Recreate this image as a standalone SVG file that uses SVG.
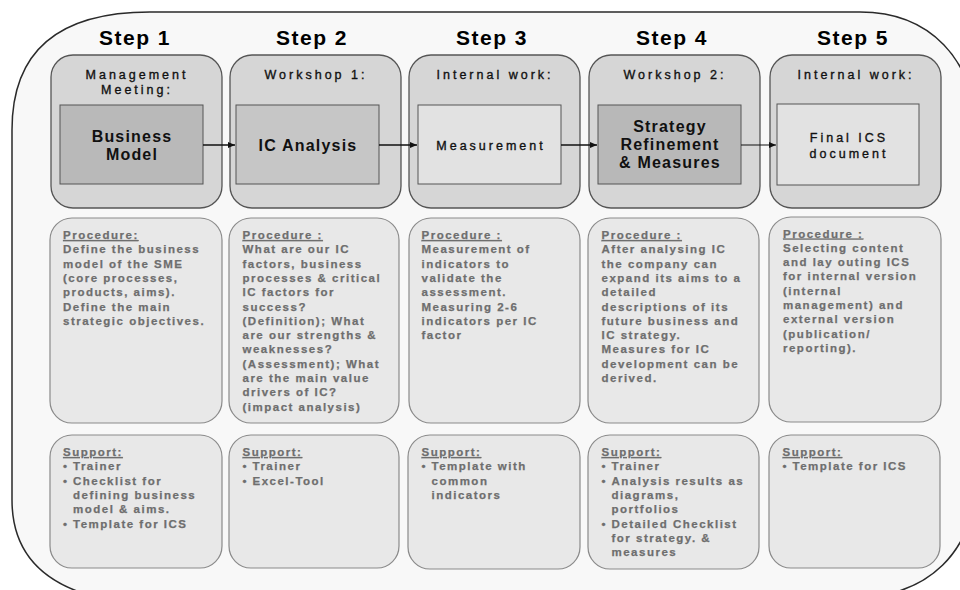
<svg xmlns="http://www.w3.org/2000/svg" width="960" height="590" viewBox="0 0 960 590">
<defs>
<style>
.outer{fill:#f8f8f8;stroke:#2a2a2a;stroke-width:1.5}
.step{fill:#d6d6d6;stroke:#555;stroke-width:1.3}
.inner{stroke:#555;stroke-width:1}
.pbox{fill:#e8e8e8;stroke:#8a8a8a;stroke-width:1.2}
text{font-family:"Liberation Sans",Arial,sans-serif}
.title{font-weight:bold;font-size:21px;letter-spacing:1.5px;fill:#000;text-anchor:middle}
.sub{font-size:12.5px;letter-spacing:3px;fill:#111;stroke:#111;stroke-width:0.35;text-anchor:middle}
.inb{font-weight:bold;font-size:16px;letter-spacing:1.2px;fill:#111;text-anchor:middle}
.body{font-weight:bold;font-size:11.5px;letter-spacing:1.5px;fill:#6e6e6e;stroke:#6e6e6e;stroke-width:0.25}
.ul{text-decoration:underline}
.conn{stroke:#111;stroke-width:1.5;fill:none}
</style>
<marker id="ah" markerUnits="userSpaceOnUse" markerWidth="8" markerHeight="8" refX="7" refY="3" orient="auto">
<path d="M0,0 L7,3 L0,6 Z" fill="#111"/>
</marker>
</defs>

<path class="outer" d="M150,12 L860,12 C930,12 975,60 975,130 L975,480 C975,550 930,598 850,598 L100,598 C45,585 12,555 12,500 L12,130 C12,50 60,12 150,12 Z"/>

<g id="step1">
<text class="title" x="135" y="44.5">Step 1</text>
<rect class="step" x="51" y="55" width="171" height="153" rx="22"/>
<text class="sub" x="137" y="79.3">Management</text>
<text class="sub" x="137" y="94">Meeting:</text>
<rect class="inner" x="60" y="105" width="143" height="79" fill="#b9b9b9"/>
<text class="inb" x="132" y="141.7">Business</text>
<text class="inb" x="132" y="160">Model</text>
</g>

<g id="step2">
<text class="title" x="312" y="44.5">Step 2</text>
<rect class="step" x="230" y="55" width="171" height="153" rx="22"/>
<text class="sub" x="316" y="79.3">Workshop 1:</text>
<rect class="inner" x="236" y="105" width="143" height="79" fill="#c6c6c6"/>
<text class="inb" x="308" y="150.7">IC Analysis</text>
</g>

<g id="step3">
<text class="title" x="492" y="44.5">Step 3</text>
<rect class="step" x="409" y="55" width="171" height="153" rx="22"/>
<text class="sub" x="495" y="79.3">Internal work:</text>
<rect class="inner" x="418" y="105" width="143" height="79" fill="#e2e2e2"/>
<text class="sub" x="491" y="150">Measurement</text>
</g>

<g id="step4">
<text class="title" x="672" y="44.5">Step 4</text>
<rect class="step" x="589" y="55" width="171" height="153" rx="22"/>
<text class="sub" x="675" y="79.3">Workshop 2:</text>
<rect class="inner" x="598" y="105" width="143" height="79" fill="#b8b8b8"/>
<text class="inb" x="670" y="132">Strategy</text>
<text class="inb" x="670" y="150">Refinement</text>
<text class="inb" x="670" y="168">&amp; Measures</text>
</g>

<g id="step5">
<text class="title" x="853" y="44.5">Step 5</text>
<rect class="step" x="770" y="55" width="171" height="153" rx="22"/>
<text class="sub" x="856" y="79.3">Internal work:</text>
<rect class="inner" x="777" y="104" width="142" height="81" fill="#e2e2e2"/>
<text class="sub" x="849" y="141.7">Final ICS</text>
<text class="sub" x="849" y="158.3">document</text>
</g>

<g id="connectors">
<line class="conn" x1="203" y1="145" x2="235" y2="145" marker-end="url(#ah)"/>
<line class="conn" x1="379" y1="145" x2="417" y2="145" marker-end="url(#ah)"/>
<line class="conn" x1="561" y1="145" x2="597" y2="145" marker-end="url(#ah)"/>
<line class="conn" style="stroke-width:1" x1="741" y1="145" x2="776" y2="145" marker-end="url(#ah)"/>
</g>

<g id="proc1">
<rect class="pbox" x="50" y="218" width="172" height="205" rx="22"/>
<text class="body" x="63" y="239"><tspan class="ul">Procedure:</tspan>
<tspan x="63" dy="14.3">Define the business</tspan>
<tspan x="63" dy="14.3">model of the SME</tspan>
<tspan x="63" dy="14.3">(core processes,</tspan>
<tspan x="63" dy="14.3">products, aims).</tspan>
<tspan x="63" dy="14.3">Define the main</tspan>
<tspan x="63" dy="14.3">strategic objectives.</tspan></text>
</g>

<g id="proc2">
<rect class="pbox" x="229" y="218" width="170" height="205" rx="22"/>
<text class="body" x="242.5" y="239"><tspan class="ul">Procedure :</tspan>
<tspan x="242.5" dy="14.3">What are our IC</tspan>
<tspan x="242.5" dy="14.3">factors, business</tspan>
<tspan x="242.5" dy="14.3">processes &amp; critical</tspan>
<tspan x="242.5" dy="14.3">IC factors for</tspan>
<tspan x="242.5" dy="14.3">success?</tspan>
<tspan x="242.5" dy="14.3">(Definition); What</tspan>
<tspan x="242.5" dy="14.3">are our strengths &amp;</tspan>
<tspan x="242.5" dy="14.3">weaknesses?</tspan>
<tspan x="242.5" dy="14.3">(Assessment); What</tspan>
<tspan x="242.5" dy="14.3">are the main value</tspan>
<tspan x="242.5" dy="14.3">drivers of IC?</tspan>
<tspan x="242.5" dy="14.3">(impact analysis)</tspan></text>
</g>

<g id="proc3">
<rect class="pbox" x="409" y="218" width="171" height="205" rx="22"/>
<text class="body" x="421.5" y="239"><tspan class="ul">Procedure :</tspan>
<tspan x="421.5" dy="14.3">Measurement of</tspan>
<tspan x="421.5" dy="14.3">indicators to</tspan>
<tspan x="421.5" dy="14.3">validate the</tspan>
<tspan x="421.5" dy="14.3">assessment.</tspan>
<tspan x="421.5" dy="14.3">Measuring 2-6</tspan>
<tspan x="421.5" dy="14.3">indicators per IC</tspan>
<tspan x="421.5" dy="14.3">factor</tspan></text>
</g>

<g id="proc4">
<rect class="pbox" x="588" y="218" width="171" height="205" rx="22"/>
<text class="body" x="601.5" y="239"><tspan class="ul">Procedure :</tspan>
<tspan x="601.5" dy="14.3">After analysing IC</tspan>
<tspan x="601.5" dy="14.3">the company can</tspan>
<tspan x="601.5" dy="14.3">expand its aims to a</tspan>
<tspan x="601.5" dy="14.3">detailed</tspan>
<tspan x="601.5" dy="14.3">descriptions of its</tspan>
<tspan x="601.5" dy="14.3">future business and</tspan>
<tspan x="601.5" dy="14.3">IC strategy.</tspan>
<tspan x="601.5" dy="14.3">Measures for IC</tspan>
<tspan x="601.5" dy="14.3">development can be</tspan>
<tspan x="601.5" dy="14.3">derived.</tspan></text>
</g>

<g id="proc5">
<rect class="pbox" x="769" y="217" width="172" height="205" rx="22"/>
<text class="body" x="783" y="237.5"><tspan class="ul">Procedure :</tspan>
<tspan x="783" dy="14.3">Selecting content</tspan>
<tspan x="783" dy="14.3">and lay outing ICS</tspan>
<tspan x="783" dy="14.3">for internal version</tspan>
<tspan x="783" dy="14.3">(internal</tspan>
<tspan x="783" dy="14.3">management) and</tspan>
<tspan x="783" dy="14.3">external version</tspan>
<tspan x="783" dy="14.3">(publication/</tspan>
<tspan x="783" dy="14.3">reporting).</tspan></text>
</g>

<g id="support1">
<rect class="pbox" x="50" y="435" width="172" height="133" rx="22"/>
<text class="body" x="63" y="456"><tspan class="ul">Support:</tspan>
<tspan x="63" dy="14.3">•</tspan><tspan x="73" dy="0">Trainer</tspan>
<tspan x="63" dy="14.3">•</tspan><tspan x="73" dy="0">Checklist for</tspan>
<tspan x="73" dy="14.3">defining business</tspan>
<tspan x="73" dy="14.3">model &amp; aims.</tspan>
<tspan x="63" dy="14.3">•</tspan><tspan x="73" dy="0">Template for ICS</tspan></text>
</g>

<g id="support2">
<rect class="pbox" x="229" y="435" width="170" height="133" rx="22"/>
<text class="body" x="242.5" y="456"><tspan class="ul">Support:</tspan>
<tspan x="242.5" dy="14.3">•</tspan><tspan x="252.5" dy="0">Trainer</tspan>
<tspan x="242.5" dy="14.3">•</tspan><tspan x="252.5" dy="0">Excel-Tool</tspan></text>
</g>

<g id="support3">
<rect class="pbox" x="408" y="435" width="172" height="134" rx="22"/>
<text class="body" x="421.5" y="456"><tspan class="ul">Support:</tspan>
<tspan x="421.5" dy="14.3">•</tspan><tspan x="431.5" dy="0">Template with</tspan>
<tspan x="431.5" dy="14.3">common</tspan>
<tspan x="431.5" dy="14.3">indicators</tspan></text>
</g>

<g id="support4">
<rect class="pbox" x="588" y="435" width="171" height="134" rx="22"/>
<text class="body" x="601.5" y="456"><tspan class="ul">Support:</tspan>
<tspan x="601.5" dy="14.3">•</tspan><tspan x="611.5" dy="0">Trainer</tspan>
<tspan x="601.5" dy="14.3">•</tspan><tspan x="611.5" dy="0">Analysis results as</tspan>
<tspan x="611.5" dy="14.3">diagrams,</tspan>
<tspan x="611.5" dy="14.3">portfolios</tspan>
<tspan x="601.5" dy="14.3">•</tspan><tspan x="611.5" dy="0">Detailed Checklist</tspan>
<tspan x="611.5" dy="14.3">for strategy. &amp;</tspan>
<tspan x="611.5" dy="14.3">measures</tspan></text>
</g>

<g id="support5">
<rect class="pbox" x="769" y="435" width="171" height="133" rx="22"/>
<text class="body" x="782.5" y="456"><tspan class="ul">Support:</tspan>
<tspan x="782.5" dy="14.3">•</tspan><tspan x="792.5" dy="0">Template for ICS</tspan></text>
</g>
</svg>
